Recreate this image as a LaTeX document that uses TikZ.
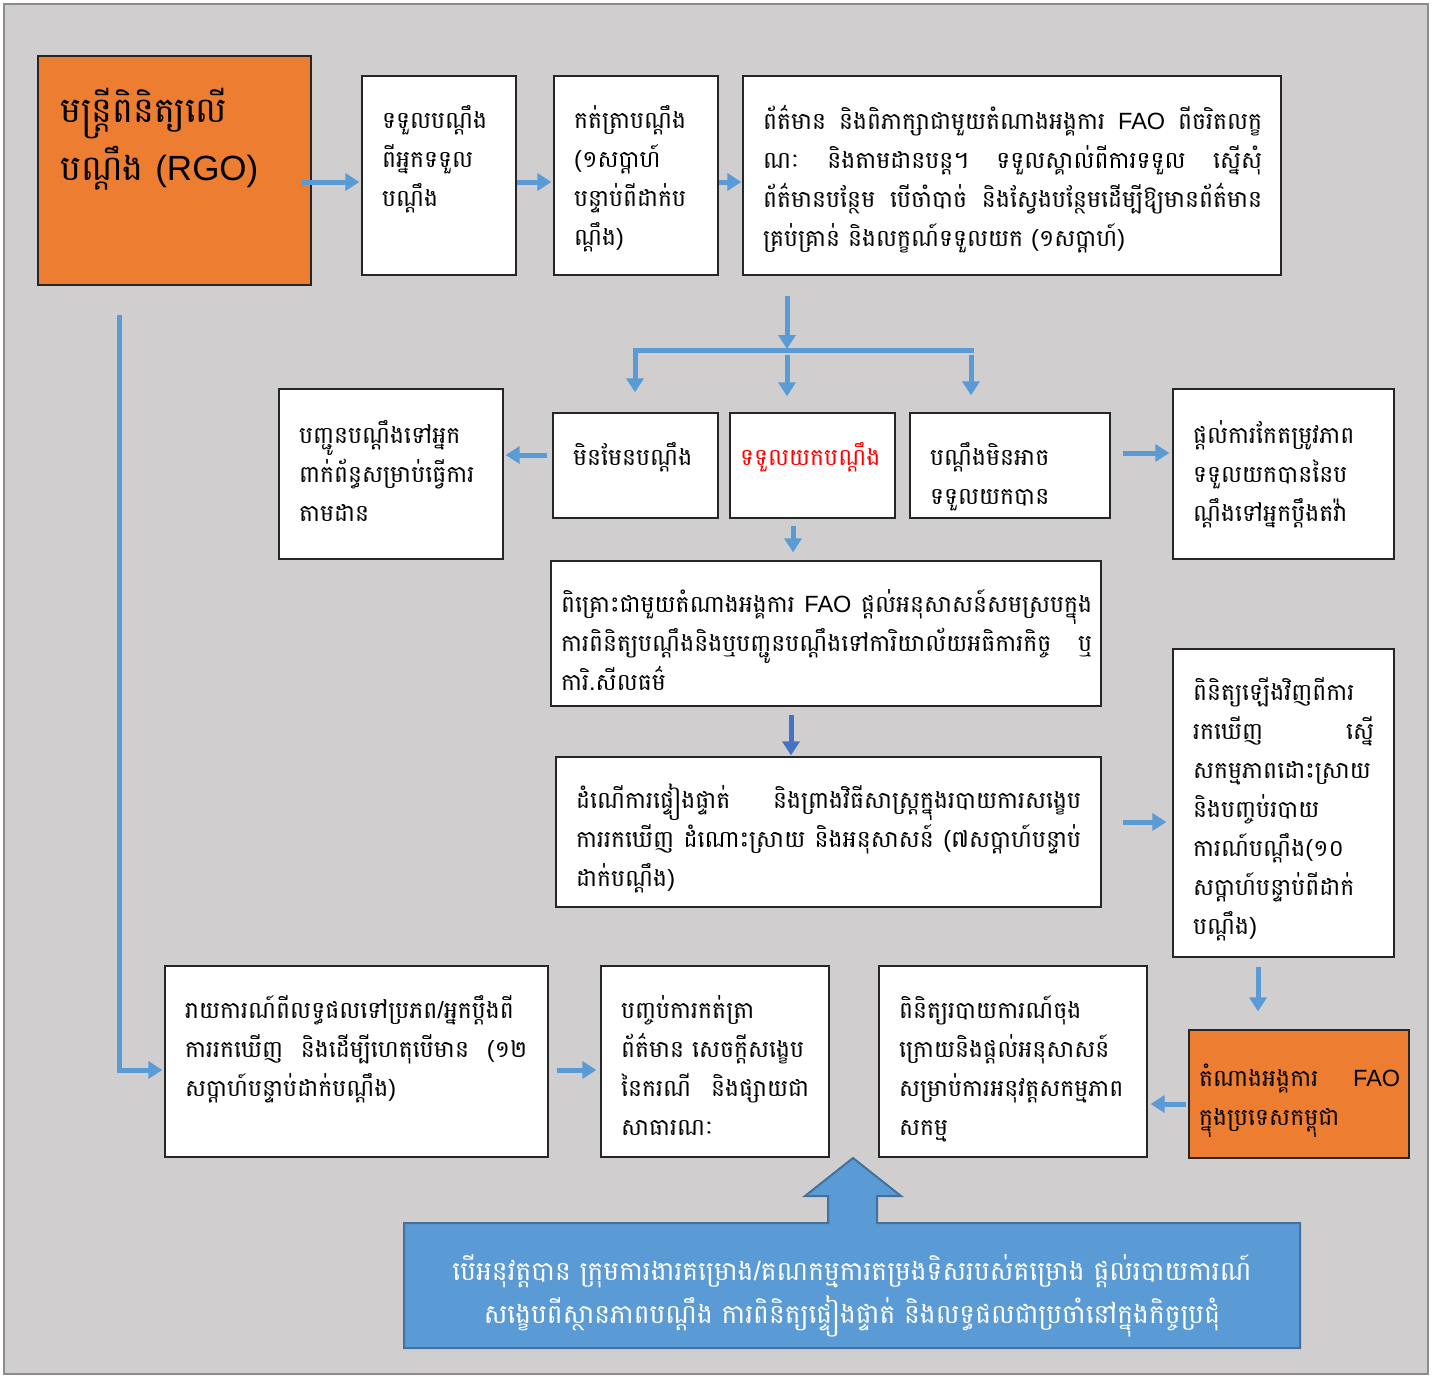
\documentclass[tikz,border=0pt]{standalone}
\usepackage{fontspec}
\setmainfont{Liberation Sans}
\newfontfamily\kh[Script=Khmer]{Battambang}
\newfontfamily\lat{Liberation Sans}
\usetikzlibrary{arrows.meta,calc}
\definecolor{bg}{HTML}{D0CECE}
\definecolor{frameg}{HTML}{8C8C8C}
\definecolor{ablue}{HTML}{5B9BD5}
\definecolor{dblue}{HTML}{4472C4}
\definecolor{bborder}{HTML}{41719C}
\definecolor{orng}{HTML}{ED7D31}
\definecolor{boxline}{HTML}{262626}
\newcommand\jst[2]{\leavevmode\hbox to #1{\spaceskip=.3em plus 1fil minus .2em\relax #2}}
\newcommand\Lt[1]{{\lat #1}}
\newcommand\fs{\rule{0pt}{34pt}}
\begin{document}
\begin{tikzpicture}[x=1pt,y=-1pt,
  box/.style={draw=boxline,line width=1.3pt,fill=white,inner sep=0pt},
  obox/.style={draw=black!85,line width=1.3pt,fill=orng,inner sep=0pt},
  txt/.style={anchor=north west,inner sep=0pt,align=left,font=\kh\fontsize{23.5}{39}\selectfont},
  arr/.style={draw=ablue,line width=5pt,-{Triangle[width=17pt,length=14pt]}},
  darr/.style={draw=dblue,line width=5pt,-{Triangle[width=17pt,length=14pt]}},
  barline/.style={draw=ablue,line width=5pt}]
\useasboundingbox (0,0) rectangle (1437,1376);
\fill[white] (0,0) rectangle (1437,1376);
\draw[fill=bg,draw=frameg,line width=2pt] (4,4) rectangle (1428,1374);

% boxes
\node[obox,minimum width=273pt,minimum height=229pt] (rgo) at (174.5,170.5) {};
\node[box,minimum width=154pt,minimum height=199pt] (a) at (439,175.5) {};
\node[box,minimum width=164pt,minimum height=199pt] (b) at (636,175.5) {};
\node[box,minimum width=538pt,minimum height=199pt] (c) at (1012,175.5) {};
\node[box,minimum width=224pt,minimum height=170pt] (d) at (391,474) {};
\node[box,minimum width=165pt,minimum height=105pt] (e) at (635.5,465.5) {};
\node[box,minimum width=165pt,minimum height=105pt] (f) at (812.5,465.5) {};
\node[box,minimum width=200pt,minimum height=105pt] (g) at (1010,465.5) {};
\node[box,minimum width=221pt,minimum height=170pt] (h) at (1283.5,474) {};
\node[box,minimum width=550pt,minimum height=145pt] (i) at (826,633.5) {};
\node[box,minimum width=545pt,minimum height=150pt] (j) at (828.5,832) {};
\node[box,minimum width=221pt,minimum height=308pt] (k) at (1283.5,803) {};
\node[obox,minimum width=220pt,minimum height=128pt] (l) at (1299,1094) {};
\node[box,minimum width=268pt,minimum height=191pt] (m) at (1013,1061.5) {};
\node[box,minimum width=228pt,minimum height=191pt] (n) at (715,1061.5) {};
\node[box,minimum width=383pt,minimum height=191pt] (o) at (356.5,1061.5) {};

% texts
\node[txt,font=\kh\fontsize{35}{58}\selectfont,text width=250pt] (rgot) at (60,81.4)
  {\strut មន្ត្រីពិនិត្យលើ\\បណ្ដឹង \Lt{(RGO)}};
\node[txt,text width=140pt] (at) at (382,94) {\fs ទទួលបណ្ដឹង\\ពីអ្នកទទួល\\បណ្ដឹង};
\node[txt,text width=150pt] (bt) at (574,94) {\fs កត់ត្រាបណ្ដឹង\\\Lt{(}១សប្ដាហ៍\\បន្ទាប់ពីដាក់ប\\ណ្ដឹង\Lt{)}};
\node[txt,text width=520pt] (ct) at (763,95) {\fs
  \jst{499pt}{ព័ត៌មាន និងពិភាក្សាជាមួយតំណាងអង្គការ \Lt{FAO} ពីចរិតលក្ខ}\\
  \jst{499pt}{ណៈ និងតាមដានបន្ត។ ទទួលស្គាល់ពីការទទួល ស្នើសុំ}\\
  \jst{499pt}{ព័ត៌មានបន្ថែម បើចាំបាច់ និងស្វែងបន្ថែមដើម្បីឱ្យមានព័ត៌មាន}\\
  គ្រប់គ្រាន់ និងលក្ខណ៍ទទួលយក \Lt{(}១សប្ដាហ៍\Lt{)}};
\node[txt,text width=210pt] (dt) at (299,409) {\fs បញ្ជូនបណ្ដឹងទៅអ្នក\\ពាក់ព័ន្ធសម្រាប់ធ្វើការ\\តាមដាន};
\node[txt,text width=150pt] (et) at (573,431) {\fs មិនមែនបណ្ដឹង};
\node[txt,text width=155pt,text=red] (ft) at (740,431) {\fs ទទួលយកបណ្ដឹង};
\node[txt,text width=175pt] (gt) at (930,431) {\fs បណ្ដឹងមិនអាច\\ទទួលយកបាន};
\node[txt,text width=200pt] (ht) at (1193,409) {\fs ផ្ដល់ការកែតម្រូវភាព\\ទទួលយកបាននៃប\\ណ្ដឹងទៅអ្នកប្ដឹងតវ៉ា};
\node[txt,text width=540pt] (it) at (561,578) {\fs
  \jst{531pt}{ពិគ្រោះជាមួយតំណាងអង្គការ \Lt{FAO} ផ្ដល់អនុសាសន៍សមស្របក្នុង}\\
  \jst{531pt}{ការពិនិត្យបណ្ដឹងនិងឬបញ្ជូនបណ្ដឹងទៅការិយាល័យអធិការកិច្ច ឬ}\\
  ការិ\Lt{.}សីលធម៌};
\node[txt,text width=515pt] (jt) at (576,774) {\fs
  \jst{505pt}{ដំណើការផ្ទៀងផ្ទាត់ និងព្រាងវិធីសាស្ត្រក្នុងរបាយការសង្ខេប}\\
  \jst{505pt}{ការរកឃើញ ដំណោះស្រាយ និងអនុសាសន៍ \Lt{(}៧សប្ដាហ៍បន្ទាប់}\\
  ដាក់បណ្ដឹង\Lt{)}};
\node[txt,text width=195pt] (kt) at (1193,666) {\fs ពិនិត្យឡើងវិញពីការ\\
  \jst{181pt}{រកឃើញ ស្នើ}\\សកម្មភាពដោះស្រាយ\\និងបញ្ចប់របាយ\\ការណ៍បណ្ដឹង\Lt{(}១០\\សប្ដាហ៍បន្ទាប់ពីដាក់\\បណ្ដឹង\Lt{)}};
\node[txt,text width=205pt] (lt) at (1199,1052) {\fs \jst{201pt}{តំណាងអង្គការ \Lt{FAO}}\\ក្នុងប្រទេសកម្ពុជា};
\node[txt,text width=245pt] (mt) at (899,984) {\fs ពិនិត្យរបាយការណ៍ចុង\\ក្រោយនិងផ្ដល់អនុសាសន៍\\សម្រាប់ការអនុវត្តសកម្មភាព\\សកម្ម};
\node[txt,text width=205pt] (nt) at (621,984) {\fs បញ្ចប់ការកត់ត្រា\\ព័ត៌មាន សេចក្ដីសង្ខេប\\\jst{188pt}{នៃករណី និងផ្សាយជា}\\សាធារណៈ};
\node[txt,text width=355pt] (ot) at (185,984) {\fs
  \jst{342pt}{រាយការណ៍ពីលទ្ធផលទៅប្រភព\Lt{/}អ្នកប្ដឹងពី}\\
  \jst{342pt}{ការរកឃើញ និងដើម្បីហេតុបើមាន \Lt{(}១២}\\
  សប្ដាហ៍បន្ទាប់ដាក់បណ្ដឹង\Lt{)}};

% big bottom arrow shape
\draw[fill=ablue,draw=bborder,line width=2pt] (404,1223) -- (828,1223) -- (828,1196) -- (805,1196) -- (853,1158)
  -- (901,1196) -- (877,1196) -- (877,1223) -- (1300,1223) -- (1300,1348) -- (404,1348) -- cycle;
\node[anchor=north,inner sep=0pt,align=center,text width=880pt,text=white,font=\kh\fontsize{26.5}{43}\selectfont] (bigt) at (852,1245)
  {\rule{0pt}{35pt}បើអនុវត្តបាន ក្រុមការងារគម្រោង\Lt{/}គណកម្មការតម្រងទិសរបស់គម្រោង ផ្ដល់របាយការណ៍\\
   សង្ខេបពីស្ថានភាពបណ្ដឹង ការពិនិត្យផ្ទៀងផ្ទាត់ និងលទ្ធផលជាប្រចាំនៅក្នុងកិច្ចប្រជុំ};

% connectors
\draw[arr] ($(rgo.east|-0,182)+(-11,0)$) -- ($(a.west|-0,182)+(-2,0)$);
\draw[arr] (a.east|-0,182) -- ($(b.west|-0,182)+(-2,0)$);
\draw[arr] (b.east|-0,182) -- ($(c.west|-0,182)+(-1,0)$);
\coordinate (cd) at (787,296);
\coordinate (sp) at (787,349);
\coordinate (bl) at (635,350);
\coordinate (br) at (971,350);
\draw[arr] (cd) -- (sp);
\draw[barline] ($(bl)+(-2.5,0)$) -- ($(br)+(2.5,0)$);
\draw[arr] ($(bl)+(0,-2.5)$) -- ($(bl|-e.north)+(0,-20)$);
\draw[arr] ($(sp)+(0,6)$) -- ($(sp|-f.north)+(0,-16)$);
\draw[arr] ($(br)+(0,5)$) -- ($(br|-g.north)+(0,-17)$);
\draw[arr] ($(e.west|-0,455)+(-5,0)$) -- ($(d.east|-0,455)+(2,0)$);
\draw[arr] ($(g.east|-0,453)+(12,0)$) -- ($(h.west|-0,453)+(-3,0)$);
\draw[arr] ($(f.south-|793,0)+(0,7)$) -- ($(i.north-|793,0)+(0,-8)$);
\draw[darr] ($(i.south-|791,0)+(0,8)$) -- ($(j.north-|791,0)+(0,-1)$);
\draw[arr] ($(j.east|-0,822)+(21,0)$) -- ($(k.west|-0,822)+(-6,0)$);
\draw[arr] ($(k.south-|1258,0)+(0,9)$) -- ($(l.north-|1258,0)+(0,-18)$);
\draw[arr] ($(l.west|-0,1104)+(-2,0)$) -- ($(m.east|-0,1104)+(3,0)$);
\draw[arr] ($(o.east|-0,1070)+(8,0)$) -- ($(n.west|-0,1070)+(-4,0)$);
\coordinate (ls) at (119,315);
\draw[arr] (ls) |- ($(o.west|-0,1070)+(-2,0)$);
\end{tikzpicture}
\end{document}
